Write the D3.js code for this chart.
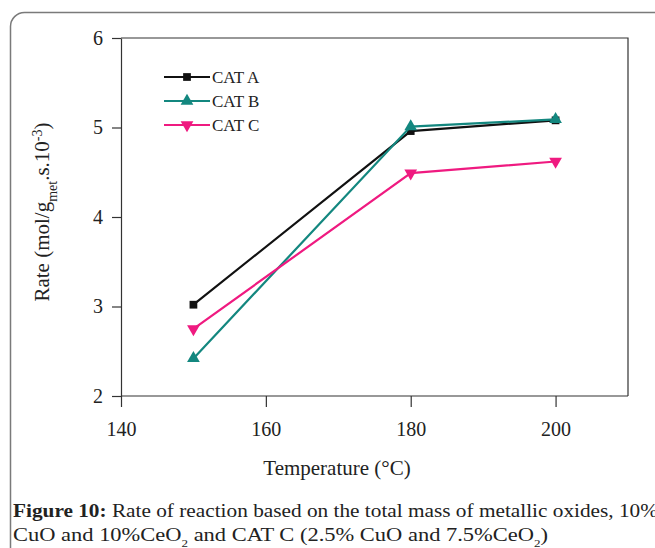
<!DOCTYPE html>
<html>
<head>
<meta charset="utf-8">
<script src="https://cdn.jsdelivr.net/npm/d3@7"></script>
<style>
  html, body { margin: 0; padding: 0; background: #fff; }
  svg { display: block; }
  text { font-family: "Liberation Serif", "Times New Roman", serif; }
</style>
</head>
<body>
<svg id="chart" width="655" height="548"></svg>
<script>
// Reaction temperatures (°C)
const temperatures = [150, 180, 200];
// Reaction rate, mol/g_met.s.10^-3
const catA = [3.02, 4.96, 5.08];
const catB = [2.42, 5.01, 5.09];
const catC = [2.75, 4.49, 4.62];
const seriesNames = ["CAT A", "CAT B", "CAT C"];
const xTicks = [140, 160, 180, 200];
const yTicks = [2, 3, 4, 5, 6];

const colors = ["#111111", "#13877f", "#ef1a80"];
const symbols = [d3.symbolSquare, d3.symbolTriangle, d3.symbolTriangle];
const symbolRot = [0, 0, 180];
const symbolSize = [60, 70, 70];

const svg = d3.select("#chart");

// outer rounded panel
svg.append("rect")
  .attr("x", 10.5).attr("y", 12.5)
  .attr("width", 720).attr("height", 620)
  .attr("rx", 14).attr("ry", 14)
  .attr("fill", "none").attr("stroke", "#7a7a7a").attr("stroke-width", 1.5);

const plot = { left: 121, top: 38, right: 628, bottom: 396 };

const x = d3.scaleLinear().domain([140, 210]).range([plot.left, plot.right]);
const y = d3.scaleLinear().domain([2, 6]).range([plot.bottom, plot.top]);

// top and right frame lines
svg.append("path")
  .attr("d", `M${plot.left},${plot.top}H${plot.right}V${plot.bottom}`)
  .attr("fill", "none").attr("stroke", "#333").attr("stroke-width", 1.2);

const xAxis = svg.append("g")
  .attr("transform", `translate(0,${plot.bottom})`)
  .call(d3.axisBottom(x).tickValues(xTicks).tickSize(11).tickSizeOuter(0)
    .tickPadding(15).tickFormat(d3.format("d")));
const yAxis = svg.append("g")
  .attr("transform", `translate(${plot.left},0)`)
  .call(d3.axisLeft(y).tickValues(yTicks).tickSize(9).tickSizeOuter(0)
    .tickPadding(9).tickFormat(d3.format("d")));

[xAxis, yAxis].forEach(g => {
  g.select(".domain").attr("stroke", "#333").attr("stroke-width", 1.2);
  g.selectAll(".tick line").attr("stroke", "#333").attr("stroke-width", 1.2);
  g.selectAll(".tick text")
    .attr("fill", "#222")
    .style("font-family", '"Liberation Serif", serif')
    .style("font-size", "20px");
});
xAxis.select(".domain").attr("d", `M${plot.left},0H${plot.right}`);

// series
const data = [catA, catB, catC];
const line = d3.line().x(d => x(d[0])).y(d => y(d[1]));

data.forEach((vals, i) => {
  const pts = temperatures.map((t, j) => [t, vals[j]]);
  svg.append("path")
    .datum(pts)
    .attr("d", line)
    .attr("fill", "none")
    .attr("stroke", colors[i])
    .attr("stroke-width", 2.2);
  svg.append("g").selectAll("path")
    .data(pts)
    .join("path")
    .attr("d", d3.symbol().type(symbols[i]).size(symbolSize[i]))
    .attr("transform", d => `translate(${x(d[0])},${y(d[1])}) rotate(${symbolRot[i]})`)
    .attr("fill", colors[i]);
});

// legend
const legend = svg.append("g");
seriesNames.forEach((name, i) => {
  const ly = 77 + i * 24;
  legend.append("line")
    .attr("x1", 164).attr("x2", 210).attr("y1", ly).attr("y2", ly)
    .attr("stroke", colors[i]).attr("stroke-width", 2.2);
  legend.append("path")
    .attr("d", d3.symbol().type(symbols[i]).size(symbolSize[i])())
    .attr("transform", `translate(187,${ly}) rotate(${symbolRot[i]})`)
    .attr("fill", colors[i]);
  legend.append("text")
    .attr("x", 212).attr("y", ly + 6)
    .attr("fill", "#222")
    .style("font-size", "17px")
    .text(name);
});

// axis titles
svg.append("text")
  .attr("x", 337).attr("y", 475)
  .attr("text-anchor", "middle")
  .attr("fill", "#222")
  .style("font-size", "21px")
  .text("Temperature (°C)");

const yt = svg.append("text")
  .attr("transform", "translate(49,212) rotate(-90)")
  .attr("text-anchor", "middle")
  .attr("fill", "#222")
  .style("font-size", "21px");
yt.append("tspan").text("Rate (mol/g");
yt.append("tspan").attr("baseline-shift", "sub").style("font-size", "14px").text("met");
yt.append("tspan").text(".s.10");
yt.append("tspan").attr("baseline-shift", "super").style("font-size", "14px").text("-3");
yt.append("tspan").text(")");

// caption
const cap1 = svg.append("text")
  .attr("x", 13).attr("y", 517)
  .attr("fill", "#222")
  .attr("textLength", 645)
  .attr("lengthAdjust", "spacingAndGlyphs")
  .style("font-size", "19px");
cap1.append("tspan").style("font-weight", "bold").text("Figure 10:");
cap1.append("tspan").text(" Rate of reaction based on the total mass of metallic oxides, 10%");

const cap2 = svg.append("text")
  .attr("x", 13).attr("y", 541)
  .attr("fill", "#222")
  .attr("textLength", 535)
  .attr("lengthAdjust", "spacingAndGlyphs")
  .style("font-size", "19px");
cap2.append("tspan").text("CuO and 10%CeO");
cap2.append("tspan").attr("baseline-shift", "sub").style("font-size", "11px").text("2");
cap2.append("tspan").text(" and CAT C (2.5% CuO and 7.5%CeO");
cap2.append("tspan").attr("baseline-shift", "sub").style("font-size", "11px").text("2");
cap2.append("tspan").text(")");
</script>
</body>
</html>
